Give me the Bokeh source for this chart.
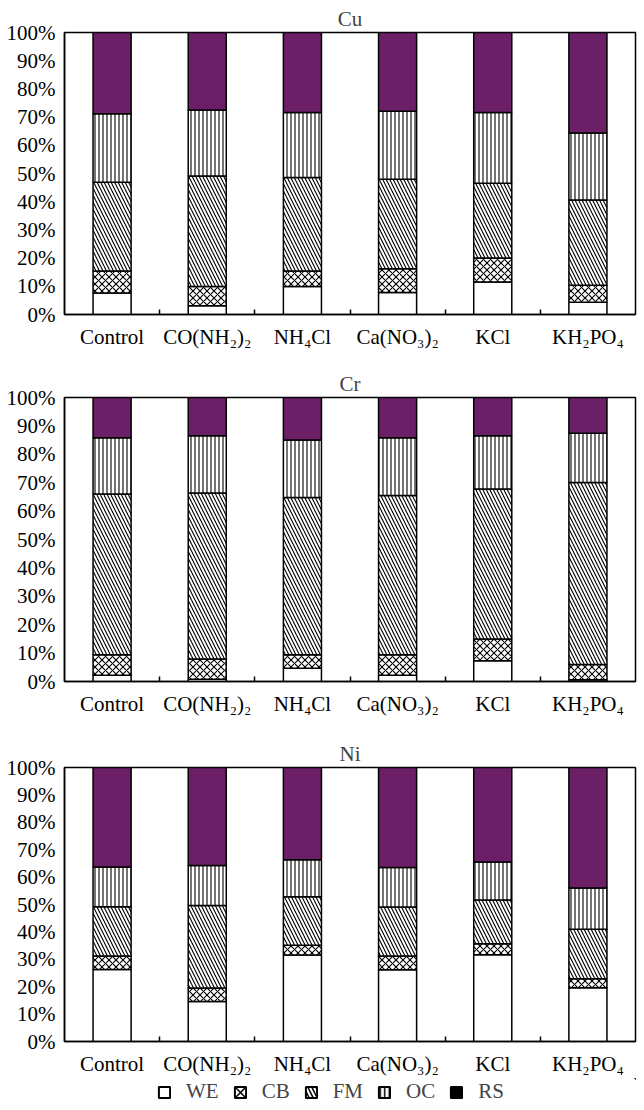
from bokeh.plotting import figure
from bokeh.layouts import column
from bokeh.models import FixedTicker, Range1d, Legend, LegendItem, ColumnDataSource
from bokeh.embed import file_html
from bokeh.resources import INLINE

categories = ["Control", "CO(NH₂)₂", "NH₄Cl", "Ca(NO₃)₂", "KCl", "KH₂PO₄"]
fractions = ["WE", "CB", "FM", "OC", "RS"]
y_ticks = [0, 10, 20, 30, 40, 50, 60, 70, 80, 90, 100]
y_tick_labels = ["0%", "10%", "20%", "30%", "40%", "50%", "60%", "70%", "80%", "90%", "100%"]

# Cu (percent of total)
cu_WE = [7.6, 3.1, 9.9, 7.8, 11.5, 4.3]
cu_CB = [7.8, 6.8, 5.5, 8.4, 8.5, 6.1]
cu_FM = [31.5, 39.2, 33.2, 31.8, 26.5, 30.2]
cu_OC = [24.3, 23.4, 23.0, 24.1, 25.1, 23.8]
cu_RS = [28.8, 27.5, 28.4, 27.9, 28.4, 35.6]

# Cr
cr_WE = [2.2, 0.8, 4.7, 2.2, 7.3, 0.6]
cr_CB = [7.2, 7.1, 4.7, 7.2, 7.7, 5.4]
cr_FM = [56.6, 58.5, 55.4, 56.1, 52.8, 64.1]
cr_OC = [19.8, 20.1, 20.2, 20.3, 18.7, 17.3]
cr_RS = [14.2, 13.5, 15.0, 14.2, 13.5, 12.6]

# Ni
ni_WE = [26.3, 14.6, 31.6, 26.2, 31.7, 19.6]
ni_CB = [4.9, 4.9, 3.5, 5.0, 4.0, 3.3]
ni_FM = [18.0, 30.1, 17.7, 17.9, 15.9, 18.1]
ni_OC = [14.5, 14.6, 13.5, 14.4, 13.9, 15.0]
ni_RS = [36.3, 35.8, 33.7, 36.5, 34.5, 44.0]

FONT = "Liberation Serif"
FSIZE = "21px"
PURPLE = "#6b1f66"
fills = ["white", "white", "white", "white", PURPLE]
hatches = [" ", "x", "\\", "|", " "]
hatch_scales = [6, 7, 7, 4, 6]

xpos = [i + 0.5 for i in range(len(categories))]
W = 644


def make_panel(title, series, height, top, bottom):
    p = figure(width=W, height=height, output_backend="svg", toolbar_location=None,
               x_range=Range1d(0, len(categories)), y_range=Range1d(0, 100),
               min_border_left=64, min_border_right=9,
               min_border_top=top, min_border_bottom=bottom)
    p.title.text = title
    p.title.align = "center"
    p.title.text_font = FONT
    p.title.text_font_size = FSIZE
    p.title.text_font_style = "normal"
    p.title.standoff = 4
    p.title.offset = 0
    p.xgrid.visible = False
    p.ygrid.visible = False
    p.outline_line_color = "black"
    p.outline_line_width = 1.5

    data = {"x": xpos}
    for f, vals in zip(fractions, series):
        data[f] = vals
    src = ColumnDataSource(data)
    p.vbar_stack(fractions, x="x", width=0.4, source=src,
                 fill_color=fills, hatch_pattern=hatches, hatch_scale=hatch_scales,
                 hatch_color="black", hatch_weight=1.1,
                 line_color="black", line_width=1.5)

    xa = p.xaxis[0]
    xa.ticker = FixedTicker(ticks=xpos, minor_ticks=[1, 2, 3, 4, 5])
    xa.major_label_overrides = {x: c for x, c in zip(xpos, categories)}
    xa.major_tick_line_color = None
    xa.minor_tick_in = 5
    xa.minor_tick_out = 0
    xa.minor_tick_line_color = "black"
    xa.minor_tick_line_width = 1.5
    xa.axis_line_width = 1.5
    xa.major_label_text_font = FONT
    xa.major_label_text_font_size = FSIZE
    xa.major_label_standoff = 4
    xa.major_label_text_color = "black"

    ya = p.yaxis[0]
    ya.ticker = FixedTicker(ticks=y_ticks)
    ya.major_label_overrides = {t: l for t, l in zip(y_ticks, y_tick_labels)}
    ya.major_tick_line_color = None
    ya.minor_tick_line_color = None
    ya.axis_line_width = 1.5
    ya.major_label_text_font = FONT
    ya.major_label_text_font_size = FSIZE
    ya.major_label_standoff = 3
    ya.major_label_text_color = "black"
    return p


p1 = make_panel("Cu", [cu_WE, cu_CB, cu_FM, cu_OC, cu_RS], 355, 32, 41)
p2 = make_panel("Cr", [cr_WE, cr_CB, cr_FM, cr_OC, cr_RS], 370, 42, 44)
p3 = make_panel("Ni", [ni_WE, ni_CB, ni_FM, ni_OC, ni_RS], 353, 42, 30)

# legend strip
pl = figure(width=W, height=28, output_backend="svg", toolbar_location=None,
            x_range=Range1d(0, 1), y_range=Range1d(0, 1),
            x_axis_location=None, y_axis_location=None,
            min_border=0, outline_line_color=None)
pl.xgrid.visible = False
pl.ygrid.visible = False
leg_hatch = [" ", "x", "\\", "|", " "]
leg_scale = [14, 14, 8, 4.5, 14]
leg_fill = ["white", "white", "white", "white", "black"]
items = []
for f, h, s, fc in zip(fractions, leg_hatch, leg_scale, leg_fill):
    r = pl.vbar(x=[5], top=[5], bottom=[4], width=0.4, fill_color=fc, hatch_pattern=h,
                hatch_scale=s, hatch_color="black", hatch_weight=1.5,
                line_color="black", line_width=2)
    items.append(LegendItem(label=f, renderers=[r]))
leg = Legend(items=items, orientation="horizontal", location=(93, 2),
             border_line_color=None, background_fill_alpha=0,
             label_text_font=FONT, label_text_font_size=FSIZE,
             glyph_width=14, glyph_height=14, label_standoff=15,
             spacing=14, padding=0, margin=0)
pl.add_layout(leg, "center")

layout = column(p1, p2, p3, pl, spacing=0)
open("out.html", "w").write(file_html(layout, INLINE))
